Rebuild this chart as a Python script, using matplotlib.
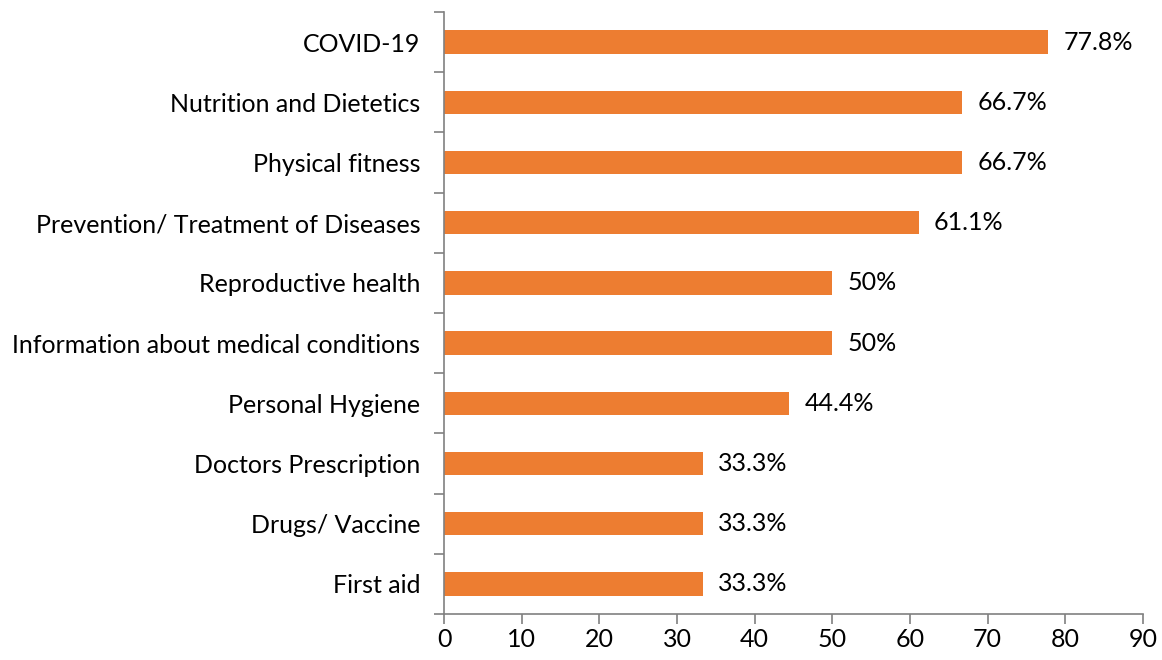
import matplotlib
matplotlib.use("Agg")
import matplotlib.pyplot as plt
import numpy as np

categories = [
    "COVID-19",
    "Nutrition and Dietetics",
    "Physical fitness",
    "Prevention/ Treatment of Diseases",
    "Reproductive health",
    "Information about medical conditions",
    "Personal Hygiene",
    "Doctors Prescription",
    "Drugs/ Vaccine",
    "First aid",
]
values = [77.8, 66.7, 66.7, 61.1, 50, 50, 44.4, 33.3, 33.3, 33.3]
value_labels = ["77.8%", "66.7%", "66.7%", "61.1%", "50%", "50%", "44.4%", "33.3%", "33.3%", "33.3%"]
x_ticks = [0, 10, 20, 30, 40, 50, 60, 70, 80, 90]

plt.rcParams['font.family'] = ['Lato', 'DejaVu Sans']

fig = plt.figure(figsize=(11.62, 6.6), dpi=100)
ax = fig.add_axes([0.3821, 0.0697, 0.6015, 0.9121])

n = len(categories)
ypos = np.arange(n)[::-1]
ax.barh(ypos, values, height=0.39, color="#ED7D31")

# value labels at the end of each bar
for y, v, lab in zip(ypos, values, value_labels):
    ax.text(v + 2.0, y, lab, va="center", ha="left", fontsize=18, color="#000000")

ax.set_xlim(0, 90)
ax.set_ylim(-0.5, n - 0.5)
ax.set_xticks(x_ticks)
ax.set_xticklabels([str(t) for t in x_ticks], fontsize=18)
ax.set_yticks(ypos)
ax.set_yticklabels(categories, fontsize=18)
ax.set_yticks(np.arange(-0.5, n, 1.0), minor=True)

ax.tick_params(axis="y", which="major", length=0, pad=17)
ax.tick_params(axis="y", which="minor", length=7, color="#808080", width=1.2)
ax.tick_params(axis="x", which="major", length=7, color="#808080", width=1.2, pad=3)

for s in ["top", "right"]:
    ax.spines[s].set_visible(False)
for s in ["left", "bottom"]:
    ax.spines[s].set_color("#808080")
    ax.spines[s].set_linewidth(1.2)

fig.savefig("out.png", dpi=100)
